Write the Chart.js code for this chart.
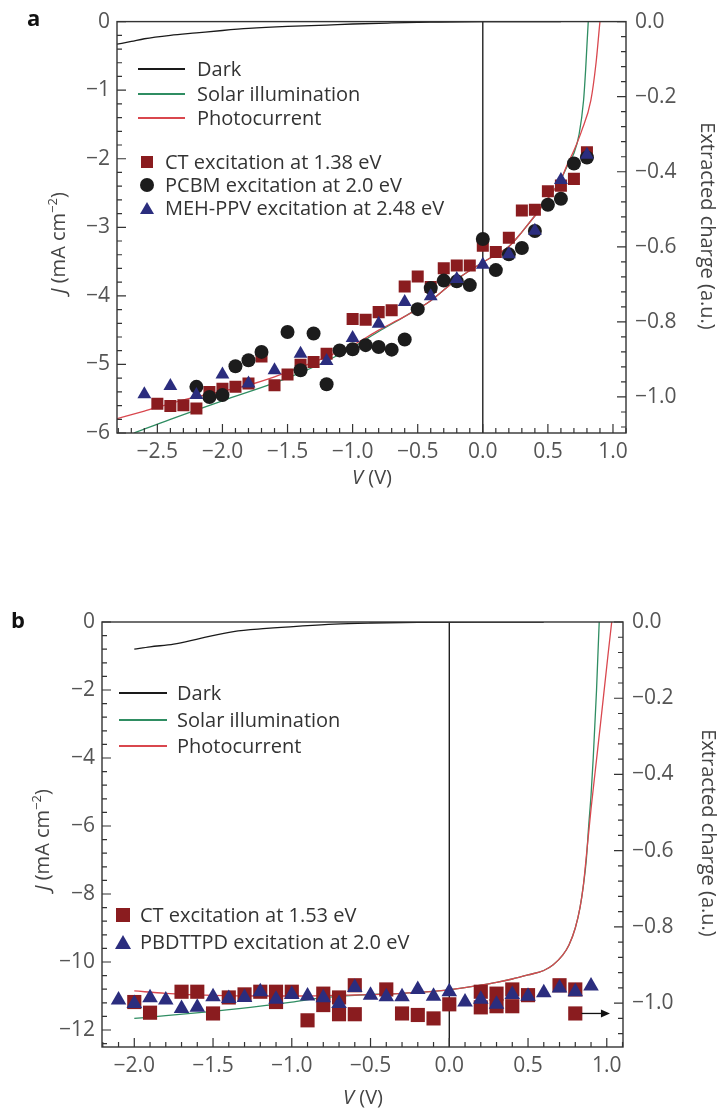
<!DOCTYPE html>
<html>
<head>
<meta charset="utf-8">
<script src="https://cdn.jsdelivr.net/npm/chart.js@4.4.1/dist/chart.umd.min.js"></script>
<style>
  body { margin: 0; background: #fff; font-family: "Open Sans", sans-serif; }
  #page { position: relative; width: 719px; height: 1111px; overflow: hidden; }
  canvas { position: absolute; left: 0; }
  .txt { position: absolute; white-space: nowrap; font-size: 20px; line-height: 24px; height: 24px; color: #333; }
  .letter { position: absolute; font-weight: bold; font-size: 22px; line-height: 22px; color: #111; }
  .title { position: absolute; white-space: nowrap; font-size: 20px; line-height: 24px; color: #444; transform: translate(-50%, -50%); }
  .title.up { transform: translate(-50%, -50%) rotate(-90deg); }
  .title.down { transform: translate(-50%, -50%) rotate(90deg); }
  .title sup { font-size: 13px; line-height: 0; }
  .ln { position: absolute; height: 1.5px; }
  .sq, .dot, .tri { position: absolute; transform: translate(-50%, -50%); }
  .dot { border-radius: 50%; }
  .tri { width: 0; height: 0; border-left-style: solid; border-right-style: solid; border-bottom-style: solid;
         border-left-color: transparent; border-right-color: transparent; }
</style>
</head>
<body>
<div id="page">
  <canvas id="chartA" width="719" height="520" style="top:0"></canvas>
  <canvas id="chartB" width="719" height="531" style="top:580px"></canvas>

  <!-- panel a labels -->
  <div class="letter" style="left:27px;top:6px">a</div>
  <div class="title up" style="left:58px;top:243px"><i>J</i> (mA cm<sup>−2</sup>)</div>
  <div class="title down" style="left:708px;top:226px">Extracted charge (a.u.)</div>
  <div class="title" style="left:372px;top:477px"><i>V</i> (V)</div>

  <div class="ln" style="left:138px;top:68px;width:47px;background:#1a1a1a"></div>
  <div class="txt" style="left:197px;top:57px">Dark</div>
  <div class="ln" style="left:138px;top:93px;width:47px;background:#2f8d62"></div>
  <div class="txt" style="left:197px;top:82px">Solar illumination</div>
  <div class="ln" style="left:138px;top:117px;width:47px;background:#d9474e"></div>
  <div class="txt" style="left:197px;top:106px">Photocurrent</div>

  <div class="sq" style="left:147px;top:162px;width:12px;height:12px;background:#8a1c1f"></div>
  <div class="txt" style="left:165px;top:150px">CT excitation at 1.38 eV</div>
  <div class="dot" style="left:147px;top:185px;width:14px;height:14px;background:#1c1c1c"></div>
  <div class="txt" style="left:165px;top:173px">PCBM excitation at 2.0 eV</div>
  <div class="tri" style="left:147px;top:208px;border-left-width:7px;border-right-width:7px;border-bottom-width:12px;border-bottom-color:#2b2d7e"></div>
  <div class="txt" style="left:165px;top:196px">MEH-PPV excitation at 2.48 eV</div>

  <!-- panel b labels -->
  <div class="letter" style="left:11px;top:608px">b</div>
  <div class="title up" style="left:42px;top:840px"><i>J</i> (mA cm<sup>−2</sup>)</div>
  <div class="title down" style="left:709px;top:833px">Extracted charge (a.u.)</div>
  <div class="title" style="left:363px;top:1097px"><i>V</i> (V)</div>

  <div class="ln" style="left:119px;top:692px;width:48px;background:#1a1a1a"></div>
  <div class="txt" style="left:177px;top:681px">Dark</div>
  <div class="ln" style="left:119px;top:719px;width:48px;background:#2f8d62"></div>
  <div class="txt" style="left:177px;top:708px">Solar illumination</div>
  <div class="ln" style="left:119px;top:745px;width:48px;background:#d9474e"></div>
  <div class="txt" style="left:177px;top:734px">Photocurrent</div>

  <div class="sq" style="left:123px;top:915px;width:14px;height:14px;background:#8a1c1f"></div>
  <div class="txt" style="left:140px;top:903px">CT excitation at 1.53 eV</div>
  <div class="tri" style="left:123px;top:942px;border-left-width:8px;border-right-width:8px;border-bottom-width:14px;border-bottom-color:#2b2d7e"></div>
  <div class="txt" style="left:140px;top:930px">PBDTTPD excitation at 2.0 eV</div>
</div>

<script>
// ---------- panel a: J-V curves (mA cm^-2) ----------
const darkA_V  = [-2.81, -2.7, -2.6, -2.4, -2.2, -2.0, -1.8, -1.5, -1.2, -1.0, -0.7, -0.4, 0.0, 0.4, 0.6];
const darkA_J  = [-0.33, -0.29, -0.25, -0.20, -0.165, -0.13, -0.10, -0.07, -0.05, -0.035, -0.02, -0.008, 0, 0, 0];

const solarA_V = [-2.68, -2.4, -2.0, -1.6, -1.4, -1.2, -1.0, -0.8, -0.6, -0.4, -0.2, 0.0, 0.2, 0.3, 0.5, 0.6, 0.65, 0.7, 0.74, 0.774, 0.79, 0.81, 0.83];
const solarA_J = [-6.0, -5.80, -5.53, -5.27, -5.12, -4.95, -4.75, -4.52, -4.30, -4.07, -3.76, -3.51, -3.28, -3.07, -2.58, -2.30, -2.10, -1.92, -1.64, -1.15, -0.70, 0.0, 0.5];

const photoA_V = [-2.81, -2.6, -2.4, -2.2, -2.0, -1.8, -1.6, -1.4, -1.2, -1.0, -0.8, -0.6, -0.4, -0.2, 0.0, 0.2, 0.3, 0.5, 0.6, 0.65, 0.7, 0.76, 0.83, 0.87, 0.9, 0.93];
const photoA_J = [-5.79, -5.68, -5.57, -5.47, -5.39, -5.30, -5.18, -5.04, -4.89, -4.72, -4.50, -4.30, -4.07, -3.76, -3.51, -3.28, -3.07, -2.58, -2.30, -2.08, -1.88, -1.59, -1.15, -0.60, 0.0, 0.5];

// ---------- panel a: extracted charge (a.u.) ----------
const ctA_V   = [-2.5, -2.4, -2.3, -2.2, -2.1, -2.0, -1.9, -1.8, -1.7, -1.6, -1.5, -1.4, -1.3, -1.2, -1.0, -0.9, -0.8, -0.7, -0.6, -0.5, -0.4, -0.3, -0.2, -0.1, 0.0, 0.1, 0.2, 0.3, 0.4, 0.5, 0.6, 0.7, 0.8];
const ctA_Q   = [-1.018, -1.024, -1.022, -1.031, -0.987, -0.978, -0.973, -0.964, -0.892, -0.969, -0.940, -0.914, -0.907, -0.885, -0.792, -0.794, -0.774, -0.769, -0.706, -0.679, -0.707, -0.657, -0.650, -0.650, -0.597, -0.614, -0.576, -0.503, -0.501, -0.452, -0.437, -0.419, -0.348];

const pcbmA_V = [-2.2, -2.1, -2.0, -1.9, -1.8, -1.7, -1.5, -1.4, -1.3, -1.2, -1.1, -1.0, -0.9, -0.8, -0.7, -0.6, -0.5, -0.4, -0.3, -0.2, -0.1, 0.0, 0.1, 0.2, 0.3, 0.4, 0.5, 0.6, 0.7, 0.8];
const pcbmA_Q = [-0.973, -1.000, -0.995, -0.918, -0.902, -0.880, -0.827, -0.929, -0.831, -0.966, -0.876, -0.873, -0.862, -0.867, -0.874, -0.847, -0.766, -0.710, -0.690, -0.692, -0.702, -0.579, -0.662, -0.620, -0.603, -0.558, -0.488, -0.472, -0.378, -0.362];

const mehA_V  = [-2.6, -2.4, -2.2, -2.0, -1.8, -1.6, -1.4, -1.2, -1.0, -0.8, -0.6, -0.4, -0.2, 0.0, 0.2, 0.4, 0.6, 0.8];
const mehA_Q  = [-0.993, -0.971, -0.995, -0.940, -0.964, -0.929, -0.885, -0.904, -0.843, -0.805, -0.747, -0.732, -0.686, -0.648, -0.620, -0.557, -0.422, -0.355];

// ---------- panel b: J-V curves ----------
const darkB_V  = [-2.0, -1.9, -1.75, -1.58, -1.37, -1.16, -0.95, -0.73, -0.5, -0.2, 0.2, 0.6];
const darkB_J  = [-0.80, -0.73, -0.65, -0.48, -0.28, -0.19, -0.12, -0.06, -0.03, -0.01, 0, 0];

const solarB_V = [-2.0, -1.8, -1.5, -1.2, -1.0, -0.8, -0.6, -0.3, 0.0, 0.2, 0.3, 0.4, 0.5, 0.6, 0.66, 0.72, 0.76, 0.8, 0.83, 0.85, 0.87, 0.885, 0.9, 0.914, 0.935, 0.952, 0.97];
const solarB_J = [-11.66, -11.58, -11.45, -11.3, -11.18, -11.05, -10.98, -10.92, -10.82, -10.68, -10.6, -10.5, -10.38, -10.25, -10.08, -9.8, -9.5, -9.0, -8.4, -7.8, -7.0, -6.0, -5.1, -4.0, -2.0, 0.0, 1.5];

const photoB_V = [-2.0, -1.8, -1.5, -1.2, -0.9, -0.6, -0.3, 0.0, 0.2, 0.3, 0.4, 0.5, 0.6, 0.66, 0.72, 0.76, 0.8, 0.83, 0.85, 0.872, 0.9, 0.93, 0.96, 1.0, 1.03, 1.06];
const photoB_J = [-10.85, -10.92, -10.98, -11.0, -11.0, -10.97, -10.92, -10.82, -10.68, -10.6, -10.5, -10.38, -10.25, -10.08, -9.8, -9.5, -9.0, -8.4, -7.8, -6.8, -5.5, -4.25, -3.0, -1.3, -0.05, 1.0];

// ---------- panel b: extracted charge ----------
const ctB_V = [-2.0, -1.9, -1.7, -1.6, -1.5, -1.4, -1.3, -1.2, -1.1, -1.1, -1.0, -0.9, -0.8, -0.8, -0.7, -0.7, -0.6, -0.6, -0.4, -0.3, -0.2, -0.1, 0.0, 0.2, 0.2, 0.3, 0.3, 0.4, 0.4, 0.5, 0.7, 0.8, 0.8];
const ctB_Q = [-0.997, -1.025, -0.970, -0.970, -1.027, -0.985, -0.977, -0.970, -0.970, -0.997, -0.970, -1.045, -0.975, -1.005, -0.985, -1.029, -0.953, -1.029, -0.964, -1.027, -1.031, -1.040, -1.003, -0.970, -1.011, -0.975, -1.008, -0.964, -1.008, -0.979, -0.953, -0.964, -1.027];

const pbB_V = [-2.1, -2.0, -1.9, -1.8, -1.7, -1.6, -1.5, -1.4, -1.3, -1.2, -1.1, -1.0, -0.9, -0.8, -0.7, -0.6, -0.5, -0.4, -0.3, -0.2, -0.1, 0.0, 0.1, 0.2, 0.3, 0.4, 0.5, 0.6, 0.7, 0.8, 0.9];
const pbB_Q = [-0.992, -1.001, -0.986, -0.992, -1.014, -1.011, -0.983, -0.988, -0.985, -0.970, -0.990, -0.977, -0.981, -0.986, -1.001, -0.959, -0.979, -0.983, -0.983, -0.964, -0.982, -0.970, -0.997, -0.990, -1.003, -0.977, -0.982, -0.973, -0.960, -0.970, -0.955];

// arrow pointing the symbols to the right-hand axis
const arrowB = { from: [0.84, -1.027], to: [1.02, -1.027] };

// tick labels
const xTicksA = [-2.5, -2.0, -1.5, -1.0, -0.5, 0.0, 0.5, 1.0];
const yTicksA = [0, -1, -2, -3, -4, -5, -6];
const xTicksB = [-2.0, -1.5, -1.0, -0.5, 0.0, 0.5, 1.0];
const yTicksB = [0, -2, -4, -6, -8, -10, -12];
const qTicks  = [0.0, -0.2, -0.4, -0.6, -0.8, -1.0];

const RED_SYM = '#8a1c1f', BLACK_SYM = '#1c1c1c', BLUE_SYM = '#2b2d7e';
const DARK_LN = '#1a1a1a', SOLAR_LN = '#2f8d62', PHOTO_LN = '#d9474e';

Chart.defaults.font.family = '"Open Sans", sans-serif';

const pts = (xs, ys) => xs.map((x, i) => ({ x: x, y: ys[i] }));
const num = d => v => (v < 0 ? '\u2212' : '') + Math.abs(v).toFixed(d);

function curve(xs, ys, color) {
  return {
    data: pts(xs, ys), yAxisID: 'y', showLine: true, borderColor: color, borderWidth: 1.3,
    pointRadius: 0, cubicInterpolationMode: 'monotone', order: 5
  };
}

function symbols(xs, ys, style, r, color, order) {
  return {
    data: pts(xs, ys), yAxisID: 'q', showLine: false, pointStyle: style, pointRadius: r,
    backgroundColor: color, borderColor: color, borderWidth: 0, order: order
  };
}

// frame, inward ticks, zero line and arrow
const framePlugin = {
  id: 'frame',
  beforeDatasetsDraw(chart) {
    const { ctx, chartArea: a, scales } = chart;
    const x0 = scales.x.getPixelForValue(0);
    ctx.save();
    ctx.strokeStyle = '#111';
    ctx.lineWidth = 1.3;
    ctx.beginPath();
    ctx.moveTo(x0, a.top);
    ctx.lineTo(x0, a.bottom);
    ctx.stroke();
    ctx.restore();
  },
  afterDatasetsDraw(chart, args, opts) {
    const { ctx, chartArea: a, scales } = chart;
    ctx.save();
    ctx.strokeStyle = '#333';
    ctx.lineWidth = 1.4;
    ctx.strokeRect(a.left, a.top, a.right - a.left, a.bottom - a.top);

    const marks = (scale, minor, major, draw) => {
      const lo = Math.min(scale.min, scale.max), hi = Math.max(scale.min, scale.max);
      for (let k = Math.ceil(lo / minor - 1e-6); k <= Math.floor(hi / minor + 1e-6); k++) {
        const v = k * minor;
        const isMajor = Math.abs(v / major - Math.round(v / major)) < 1e-6;
        draw(scale.getPixelForValue(v), isMajor ? 9 : 5);
      }
    };
    ctx.lineWidth = 1.2;
    ctx.beginPath();
    marks(scales.x, opts.xMinor, opts.xMajor, (p, len) => { ctx.moveTo(p, a.bottom); ctx.lineTo(p, a.bottom - len); });
    marks(scales.y, opts.yMinor, opts.yMajor, (p, len) => { ctx.moveTo(a.left, p); ctx.lineTo(a.left + len, p); });
    marks(scales.q, opts.qMinor, opts.qMajor, (p, len) => { ctx.moveTo(a.right, p); ctx.lineTo(a.right - len, p); });
    ctx.stroke();

    if (opts.arrow) {
      const x1 = scales.x.getPixelForValue(opts.arrow.from[0]);
      const x2 = scales.x.getPixelForValue(opts.arrow.to[0]);
      const y = scales.q.getPixelForValue(opts.arrow.from[1]);
      ctx.strokeStyle = '#111';
      ctx.fillStyle = '#111';
      ctx.lineWidth = 1.3;
      ctx.beginPath();
      ctx.moveTo(x1, y);
      ctx.lineTo(x2 - 6, y);
      ctx.stroke();
      ctx.beginPath();
      ctx.moveTo(x2, y);
      ctx.lineTo(x2 - 9, y - 4);
      ctx.lineTo(x2 - 9, y + 4);
      ctx.closePath();
      ctx.fill();
    }
    ctx.restore();
  }
};

function makePanel(id, p) {
  const tickFont = { size: 21 };
  const noGrid = { display: false, drawTicks: false };
  return new Chart(document.getElementById(id), {
    type: 'scatter',
    data: { datasets: p.datasets },
    options: {
      responsive: false,
      animation: false,
      layout: { padding: { top: p.padTop, left: 0, right: 0, bottom: 0 } },
      plugins: { legend: { display: false }, tooltip: { enabled: false }, frame: p.frame },
      scales: {
        x: {
          type: 'linear', position: 'bottom', min: p.xMin, max: p.xMax,
          grid: noGrid, border: { display: false },
          ticks: { font: tickFont, color: '#555', padding: 6, autoSkip: false, maxRotation: 0, callback: num(1) },
          afterBuildTicks: s => { s.ticks = p.xTicks.map(v => ({ value: v })); },
          afterFit: s => { s.height = p.xHeight; }
        },
        y: {
          type: 'linear', position: 'left', min: p.yMin, max: 0,
          grid: noGrid, border: { display: false },
          ticks: { font: tickFont, color: '#555', padding: 7, autoSkip: false, callback: num(0) },
          afterBuildTicks: s => { s.ticks = p.yTicks.map(v => ({ value: v })); },
          afterFit: s => { s.width = p.leftWidth; }
        },
        q: {
          type: 'linear', position: 'right', min: p.qMin, max: 0,
          grid: noGrid, border: { display: false },
          ticks: { font: tickFont, color: '#555', padding: 9, autoSkip: false, callback: num(1) },
          afterBuildTicks: s => { s.ticks = qTicks.map(v => ({ value: v })); },
          afterFit: s => { s.width = p.rightWidth; }
        }
      }
    },
    plugins: [framePlugin]
  });
}

makePanel('chartA', {
  padTop: 21, xHeight: 87, leftWidth: 117, rightWidth: 93,
  xMin: -2.81, xMax: 1.10, yMin: -6, qMin: -1.096,
  xTicks: xTicksA, yTicks: yTicksA,
  frame: { xMinor: 0.1, xMajor: 0.5, yMinor: 0.2, yMajor: 1, qMinor: 0.04, qMajor: 0.2, arrow: null },
  datasets: [
    symbols(mehA_V, mehA_Q, 'triangle', 8, BLUE_SYM, 0),
    symbols(pcbmA_V, pcbmA_Q, 'circle', 7, BLACK_SYM, 1),
    symbols(ctA_V, ctA_Q, 'rect', 8.5, RED_SYM, 2),
    curve(photoA_V, photoA_J, PHOTO_LN),
    curve(solarA_V, solarA_J, SOLAR_LN),
    curve(darkA_V, darkA_J, DARK_LN)
  ]
});

makePanel('chartB', {
  padTop: 42, xHeight: 64, leftWidth: 102, rightWidth: 96,
  xMin: -2.205, xMax: 1.103, yMin: -12.5, qMin: -1.115,
  xTicks: xTicksB, yTicks: yTicksB,
  frame: { xMinor: 0.1, xMajor: 0.5, yMinor: 0.4, yMajor: 2, qMinor: 0.04, qMajor: 0.2, arrow: arrowB },
  datasets: [
    symbols(pbB_V, pbB_Q, 'triangle', 9, BLUE_SYM, 0),
    symbols(ctB_V, ctB_Q, 'rect', 10, RED_SYM, 1),
    curve(photoB_V, photoB_J, PHOTO_LN),
    curve(solarB_V, solarB_J, SOLAR_LN),
    curve(darkB_V, darkB_J, DARK_LN)
  ]
});
</script>
</body>
</html>
